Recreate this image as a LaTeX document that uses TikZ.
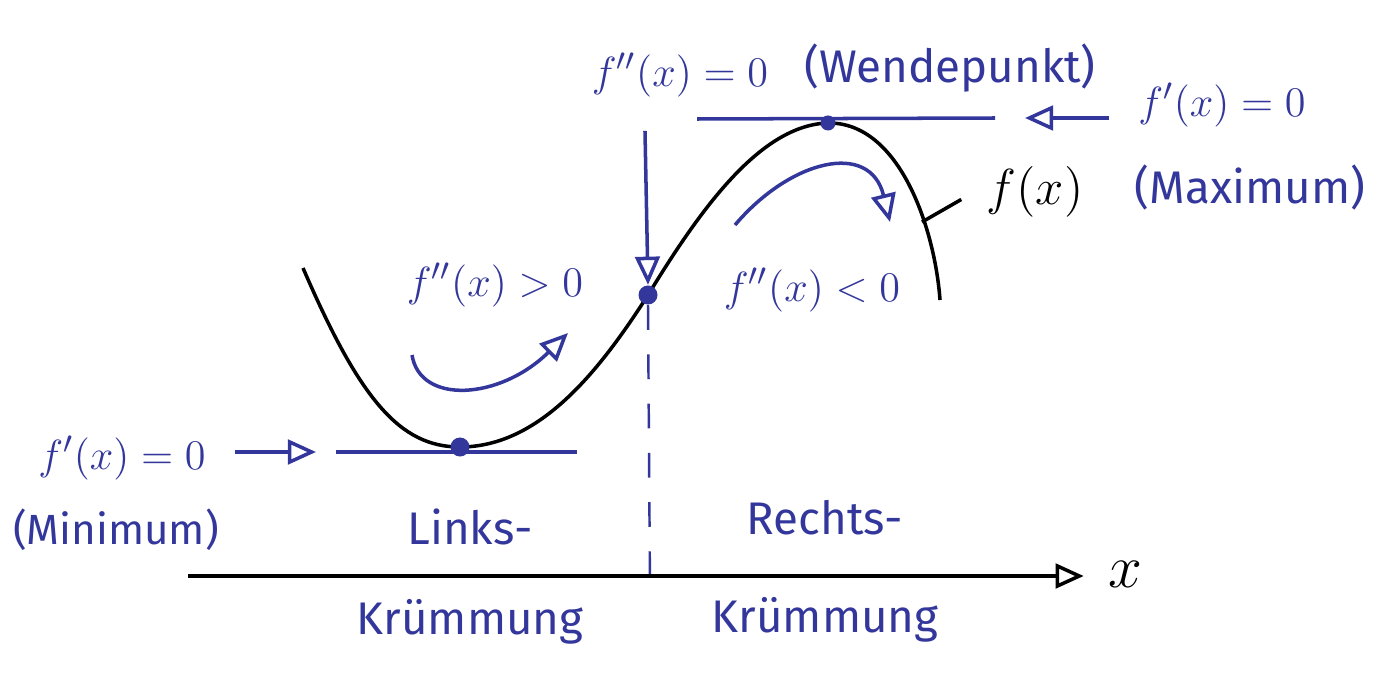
\documentclass[tikz,border=0pt]{standalone}
\usepackage{fontspec}
\setmainfont{Fira Sans}
\usetikzlibrary{arrows.meta, positioning}
\definecolor{pen}{HTML}{33379B}

\begin{document}
\begin{tikzpicture}[x=0.01cm, y=-0.01cm,
    lbl/.style={text=pen, font=\fontsize{13}{16}\selectfont, inner sep=1pt},
    ink/.style={draw=pen, line width=1pt},
    harrow/.style={ink, -{Triangle[open, length=8pt, width=7pt]}},
    pt/.style={circle, fill=pen, inner sep=0pt, minimum size=0.19cm}
  ]
  \useasboundingbox (0,0) rectangle (1385,676);

  % the function
  \coordinate (min) at (460,447);
  \coordinate (wp) at (648,295);
  \coordinate (max) at (828,123);
  \draw[line width=1pt] (303,268) .. controls (360,400) and (400,447) .. (min)
    .. controls (540,447) and (600,370) .. (wp)
    .. controls (700,210) and (760,125) .. (max)
    .. controls (900,122) and (935,230) .. (940,300);
  \coordinate (fc) at (922,222);
  \node[font=\fontsize{14}{17}\selectfont] (flab) at (1035,192) {$f(x)$};
  \draw[line width=1pt, shorten >=0.15cm] (fc) -- (flab.west);

  % tangents
  \coordinate (t1a) at (336,452);
  \coordinate (t1b) at (577,452);
  \coordinate (t2a) at (697,119);
  \coordinate (t2b) at (995,118);
  \draw[ink] (t1a) -- (t1b);
  \draw[ink] (t2a) -- (t2b);
  \node[pt] (pmin) at (min) {};
  \node[pt] (pwp) at (wp) {};
  \node[pt, minimum size=0.15cm] (pmax) at (max) {};

  % minimum
  \node[lbl] (fmin) at (122,458) {$f'(x) = 0$};
  \node[lbl, font=\fontsize{12}{15}\selectfont] (minw) at (116,530) {(Minimum)};
  \coordinate (a1) at ([xshift=0.25cm]fmin.east);
  \draw[harrow, shorten >=0.2cm] (a1 |- t1a) -- (t1a);

  % maximum
  \node[lbl] (fmax) at (1222,105) {$f'(x) = 0$};
  \node[lbl] (maxw) at (1250,188) {(Maximum)};
  \coordinate (a2) at ([xshift=-0.25cm]fmax.west);
  \draw[harrow, shorten >=0.3cm] (a2 |- t2b) -- (t2b);

  % inflection point
  \node[lbl] (wform) at (680,75) {$f''(x) = 0$};
  \node[lbl] (wword) at (950,68) {(Wendepunkt)};
  \draw[harrow] ([xshift=-0.35cm, yshift=-0.3cm]wform.south) -- (pwp.north);
  \coordinate (dend) at (650,592);
  \draw[draw=pen, line width=0.7pt, dash pattern=on 7pt off 7pt] (pwp.south) -- (dend);

  % curvature
  \node[lbl] (konvex) at (495,285) {$f''(x) > 0$};
  \node[lbl] (konkav) at (812,290) {$f''(x) < 0$};
  \draw[harrow] (412,355) .. controls (420,405) and (500,400) .. (568,333);
  \draw[harrow] (735,225) .. controls (790,160) and (870,140) .. (890,222);

  % axis
  \coordinate (ax0) at (188,576);
  \node[font=\fontsize{18}{22}\selectfont] (xlab) at (1125,574) {$x$};
  \draw[line width=1pt, -{Triangle[open, length=8pt, width=7pt]}, shorten >=0.12cm] (ax0) -- (ax0 -| xlab.west);

  \node[lbl] (links) at (470,527) {Links-};
  \node[lbl] (lkr) at (470,622) {Krümmung};
  \node[lbl] (rechts) at (825,518) {Rechts-};
  \node[lbl] (rkr) at (825,620) {Krümmung};
\end{tikzpicture}
\end{document}
